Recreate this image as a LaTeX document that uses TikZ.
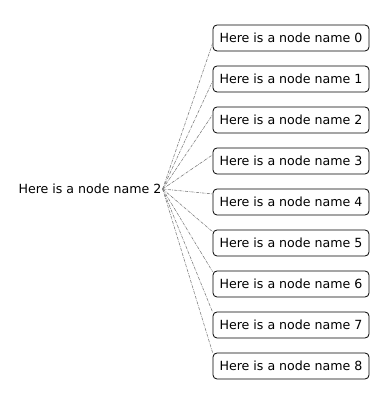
\documentclass[tikz,border=0pt]{standalone}
\usepackage{fontspec}
\setmainfont{DejaVu Sans}
\usetikzlibrary{calc}
\tikzset{
  namebox/.style={draw=black, line width=0.8pt, rounded corners=4pt,
    minimum width=156pt, minimum height=26pt, inner sep=0pt,
    font=\fontsize{12.6}{15}\selectfont},
  rootname/.style={inner sep=1pt, font=\fontsize{12.6}{15}\selectfont},
  link/.style={draw=gray, line width=0.6pt, densely dashdotted}
}
\begin{document}
\begin{tikzpicture}[x=1pt,y=1pt]
\useasboundingbox (0,0) rectangle (382,393);
% root name:
\node[rootname] (root) at (90,204) {Here is a node name 2};
% leaf names:
\foreach \i in {0,...,8}
  \node[namebox] (n\i) at (291,355-41*\i) {Here is a node name \i};
% links:
\foreach \i/\f in {0/0.7,1/0.58,2/0.3,3/0.27,4/0.2,5/0.08,6/0.04,7/0.02,8/0}
  \draw[link] (root.east) -- ($(n\i.north west)!\f!(n\i.south west)$);
\end{tikzpicture}
\end{document}
